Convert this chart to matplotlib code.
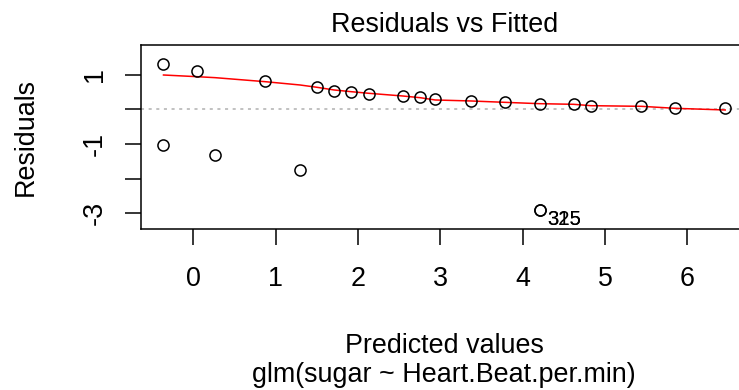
import matplotlib
matplotlib.use("Agg")
import matplotlib.pyplot as plt

# fitted values and residuals
fitted = [-0.364, 0.045, 0.871, 1.499, 1.709, 1.915, 2.130, 2.543, 2.754,
          2.936, 3.373, 3.782, 4.203, 4.616, 4.827, 5.438, 5.851, 6.458,
          -0.364, 0.264, 1.296, 4.203, 4.203]
residuals = [1.315, 1.121, 0.832, 0.642, 0.543, 0.497, 0.448, 0.390, 0.353,
             0.295, 0.246, 0.208, 0.150, 0.150, 0.101, 0.101, 0.052, 0.052,
             -1.026, -1.315, -1.749, -2.905, -2.905]

# lowess smooth (red line)
smooth_x = [-0.364, 0.045, 0.264, 0.871, 1.296, 1.499, 1.709, 1.915, 2.130,
            2.543, 2.754, 2.936, 3.373, 3.782, 4.203, 4.616, 4.827, 5.438,
            5.851, 6.458]
smooth_y = [0.997, 0.948, 0.920, 0.804, 0.708, 0.642, 0.564, 0.515, 0.468,
            0.390, 0.341, 0.275, 0.246, 0.207, 0.168, 0.150, 0.110, 0.092,
            0.034, -0.014]

# labelled outliers
id_x = [4.203, 4.203]
id_y = [-2.905, -2.905]
id_labels = ["325", "315"]

xticks = [0, 1, 2, 3, 4, 5, 6]
yticks = [1, 0, -1, -2, -3]
ytick_labels = ["1", "", "-1", "", "-3"]

W, H = 739, 390
plt.rcParams['font.family'] = ['Liberation Sans', 'DejaVu Sans']
fs = 19.4

fig = plt.figure(figsize=(W / 100, H / 100), dpi=100)
left, right, top, bottom = 141, 747.6, 45, 229
ax = fig.add_axes([left / W, 1 - bottom / H, (right - left) / W, (bottom - top) / H])

ax.axhline(0, color='#B0B0B0', lw=1.1, linestyle=(0, (2, 3)))
ax.plot(smooth_x, smooth_y, color='red', lw=1.1)
ax.plot(fitted, residuals, 'o', mfc='none', mec='black', ms=8, mew=1.1)

for x, y, lab in zip(id_x, id_y, id_labels):
    ax.annotate(lab, (x, y), xytext=(5.3, -10.8), textcoords='offset points',
                ha='left', va='baseline', fontsize=14.6, annotation_clip=False)

ax.set_xlim(-0.637, 6.73)
ax.set_ylim(-3.454, 1.864)
ax.set_xticks(xticks)
ax.set_xticklabels([str(t) for t in xticks])
ax.set_yticks(yticks)
ax.set_yticklabels(ytick_labels, rotation=90, va='center')
ax.tick_params(axis='x', length=11.5, width=1.1, pad=15, labelsize=fs)
ax.tick_params(axis='y', length=11.5, width=1.1, pad=12.2, labelsize=fs)
for s in ax.spines.values():
    s.set_linewidth(1.1)

cx = (left + right) / 2 / W
fig.text(cx, 1 - 32 / H, "Residuals vs Fitted", ha='center', va='baseline', fontsize=fs)
fig.text(cx, 1 - 353 / H, "Predicted values", ha='center', va='baseline', fontsize=fs)
fig.text(cx, 1 - 382 / H, "glm(sugar ~ Heart.Beat.per.min)", ha='center', va='baseline', fontsize=fs)
fig.text(33 / W, 1 - 137 / H, "Residuals", rotation=90, rotation_mode='anchor',
         ha='center', va='baseline', fontsize=fs)

fig.savefig('out.png', dpi=100)
